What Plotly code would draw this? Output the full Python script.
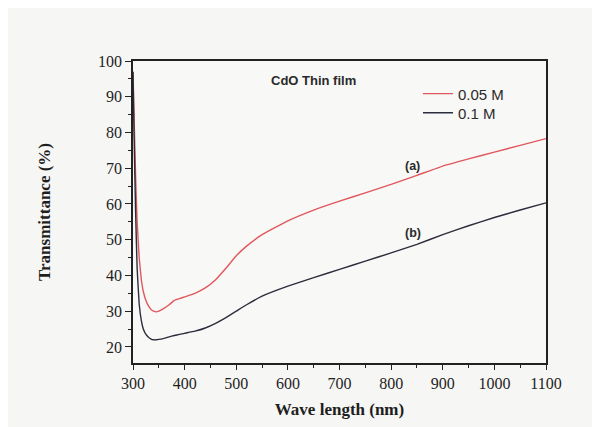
import plotly.graph_objects as go

wavelength = [300, 302, 305, 308, 312, 316, 320, 325, 330, 335, 340, 345, 350, 360, 370,
              380, 390, 400, 420, 440, 460, 480, 500, 520, 550, 600, 650, 700, 750, 800,
              850, 900, 950, 1000, 1050, 1100]
trans_005M = [97, 85, 68, 55, 45, 39, 35.5, 33, 31.5, 30.5, 30, 29.8, 30, 30.8, 31.8,
              33, 33.5, 34, 35, 36.5, 38.8, 42, 45.5, 48.2, 51.4, 55.3, 58.3, 60.8, 63.1, 65.5,
              68, 70.6, 72.6, 74.5, 76.4, 78.3]
trans_01M = [97, 80, 58, 42, 32, 27.5, 25, 23.5, 22.7, 22.2, 22, 22, 22.1, 22.4, 22.8,
             23.2, 23.5, 23.8, 24.4, 25.3, 26.6, 28.2, 30, 31.8, 34.2, 37, 39.4, 41.7, 44, 46.3,
             48.7, 51.4, 53.9, 56.2, 58.3, 60.3]
series_names = ["0.05 M", "0.1 M"]
x_ticks = [300, 400, 500, 600, 700, 800, 900, 1000, 1100]
y_ticks = [20, 30, 40, 50, 60, 70, 80, 90, 100]

fig = go.Figure()
fig.add_trace(go.Scatter(x=wavelength, y=trans_005M, mode="lines", name=series_names[0],
                         legend="legend",
                         line=dict(color="#e0575e", width=1.4, shape="spline", smoothing=0.3)))
fig.add_trace(go.Scatter(x=wavelength, y=trans_01M, mode="lines", name=series_names[1],
                         legend="legend2",
                         line=dict(color="#2b2d3c", width=1.4, shape="spline", smoothing=0.3)))

serif = "Liberation Serif"
ink = "#1e1e1e"
leg_font = dict(family="Liberation Sans", size=15, color="#2a2a2a")
fig.update_layout(
    width=592, height=419,
    margin=dict(l=125, r=54, t=53, b=64),
    paper_bgcolor="#f6f6f4", plot_bgcolor="#f8f8f6",
    showlegend=True,
    legend=dict(x=0.69, y=0.891, xanchor="left", yanchor="middle",
                bgcolor="rgba(0,0,0,0)", font=leg_font, itemwidth=30),
    legend2=dict(x=0.69, y=0.828, xanchor="left", yanchor="middle",
                 bgcolor="rgba(0,0,0,0)", font=leg_font, itemwidth=30),
    xaxis=dict(range=[300, 1100], tickvals=x_ticks, ticks="outside", ticklen=5, tickwidth=1.2,
               tickcolor="#222", showline=True, linecolor="#222", linewidth=1.6, mirror=True,
               showgrid=False, zeroline=False, automargin=False,
               minor=dict(dtick=50, ticks="outside", ticklen=3, tickcolor="#222"),
               tickfont=dict(family=serif, size=16, color=ink),
               title=dict(text="<b>Wave length (nm)</b>", standoff=12,
                          font=dict(family=serif, size=17, color=ink))),
    yaxis=dict(range=[15.5, 100], tickvals=y_ticks, ticks="outside", ticklen=6, tickwidth=1.2,
               tickcolor="#222", showline=True, linecolor="#222", linewidth=1.6, mirror=True,
               showgrid=False, zeroline=False, automargin=False,
               minor=dict(dtick=5, ticks="outside", ticklen=3, tickcolor="#222"),
               tickfont=dict(family=serif, size=16, color=ink),
               title=dict(text="<b>Transmittance (%)</b>", standoff=43,
                          font=dict(family=serif, size=17, color=ink))),
)
fig.add_annotation(x=0.33, y=0.935, xref="paper", yref="paper", text="<b>CdO Thin film</b>",
                   showarrow=False, xanchor="left", yanchor="middle",
                   font=dict(family="Liberation Sans", size=13, color="#2a2a2a"))
fig.add_annotation(x=842, y=70.6, text="<b>(a)</b>", showarrow=False,
                   font=dict(family="Liberation Sans", size=12.5, color="#2a2a2a"))
fig.add_annotation(x=842, y=51.9, text="<b>(b)</b>", showarrow=False,
                   font=dict(family="Liberation Sans", size=12.5, color="#2a2a2a"))

fig.write_html("out.html")
